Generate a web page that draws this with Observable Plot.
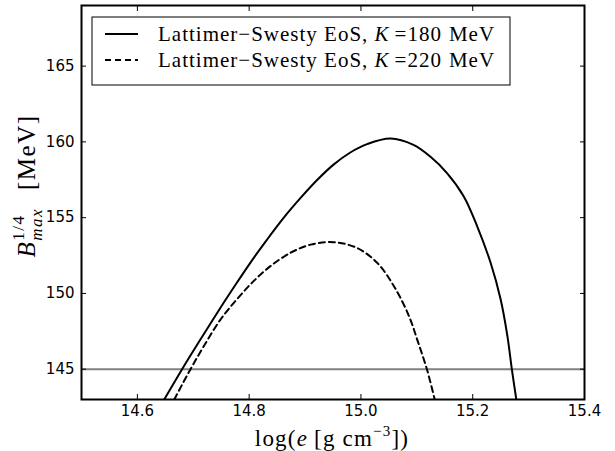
<!DOCTYPE html>
<html><head><meta charset="utf-8">
<script src="https://cdn.jsdelivr.net/npm/d3@7"></script>
<script src="https://cdn.jsdelivr.net/npm/@observablehq/plot@0.6"></script>
<style>body{margin:0;background:#fff} svg{display:block}</style>
</head><body><div id="chart"></div>
<script>
// K = 180 MeV (solid)
const xK180 = [14.648, 14.680, 14.713, 14.743, 14.772, 14.802, 14.832, 14.862, 14.892, 14.922, 14.951, 14.981, 15.011, 15.053, 15.094, 15.124, 15.154, 15.184, 15.208, 15.232, 15.250, 15.262, 15.270, 15.278];
const yK180 = [143.0, 145.0, 146.97, 148.73, 150.37, 152.02, 153.55, 155.0, 156.3, 157.5, 158.5, 159.3, 159.85, 160.22, 159.8, 159.03, 157.94, 156.40, 154.43, 152.02, 149.6, 147.2, 145.0, 143.0];
// K = 220 MeV (dashed)
const xK220 = [14.666, 14.695, 14.719, 14.749, 14.778, 14.808, 14.838, 14.874, 14.910, 14.951, 14.993, 15.029, 15.059, 15.086, 15.102, 15.118, 15.132];
const yK220 = [143.0, 145.0, 146.53, 148.29, 149.61, 150.81, 151.80, 152.68, 153.22, 153.38, 153.0, 152.02, 150.48, 148.5, 146.8, 145.0, 143.0];
const threshold = [145];
const xTicks = [14.6, 14.8, 15.0, 15.2, 15.4];
const yTicks = [145, 150, 155, 160, 165];
const seriesNames = ["Lattimer\u2212Swesty EoS, ", "Lattimer\u2212Swesty EoS, "];
const seriesK = ["180", "220"];
const seriesDash = [null, "6,4"];

const k180 = xK180.map((x, i) => ({x, y: yK180[i]}));
const k220 = xK220.map((x, i) => ({x, y: yK220[i]}));
const fmt = d3.format(".1f");

const plot = Plot.plot({
  width: 615, height: 451,
  marginLeft: 81, marginRight: 31, marginTop: 5, marginBottom: 52,
  style: {fontFamily: "DejaVu Sans", fontSize: "15px", background: "white", color: "black"},
  x: {domain: [14.5, 15.4]},
  y: {domain: [143, 169]},
  marks: [
    Plot.ruleY(threshold, {stroke: "#808080", strokeWidth: 2}),
    Plot.line(k180, {x: "x", y: "y", stroke: "black", strokeWidth: 2, curve: "catmull-rom", clip: true}),
    Plot.line(k220, {x: "x", y: "y", stroke: "black", strokeWidth: 2, strokeDasharray: seriesDash[1], curve: "catmull-rom", clip: true}),
    Plot.axisX(xTicks, {anchor: "bottom", tickSize: 0, tickPadding: 6, tickFormat: fmt, label: null}),
    Plot.axisX(xTicks, {anchor: "bottom", tickSize: -5, tickFormat: () => "", label: null}),
    Plot.axisX(xTicks, {anchor: "top", tickSize: -5, tickFormat: () => "", label: null}),
    Plot.axisY(yTicks, {anchor: "left", tickSize: 0, tickPadding: 7, label: null}),
    Plot.axisY(yTicks, {anchor: "left", tickSize: -5, tickFormat: () => "", label: null}),
    Plot.axisY(yTicks, {anchor: "right", tickSize: -5, tickFormat: () => "", label: null}),
    Plot.frame({stroke: "black", strokeWidth: 2})
  ]
});
document.getElementById("chart").appendChild(plot);

const svg = d3.select(plot);
const serif = "'Liberation Serif', 'DejaVu Serif', serif";

// legend
const lg = svg.append("g").attr("text-anchor", "start");
lg.append("rect").attr("x", 92).attr("y", 17).attr("width", 418).attr("height", 68)
  .attr("fill", "white").attr("stroke", "black").attr("stroke-width", 1);
seriesNames.forEach((name, i) => {
  const cy = 34 + i * 26;
  lg.append("line").attr("x1", 105).attr("x2", 138).attr("y1", cy).attr("y2", cy)
    .attr("stroke", "black").attr("stroke-width", 2).attr("stroke-dasharray", seriesDash[i]);
  const t = lg.append("text").attr("x", 158).attr("y", cy + 7).attr("text-anchor", "start")
    .attr("font-family", serif).attr("font-size", 21).attr("letter-spacing", 1).attr("fill", "black");
  t.append("tspan").text(name);
  t.append("tspan").attr("font-style", "italic").text("K");
  t.append("tspan").attr("dx", 5).text("=" + seriesK[i]);
  t.append("tspan").attr("dx", 7).text("MeV");
});

// x label
const xl = svg.append("text").attr("x", 332).attr("y", 446).attr("text-anchor", "middle")
  .attr("font-family", serif).attr("font-size", 23).attr("letter-spacing", 1.2).attr("fill", "black");
xl.append("tspan").text("log(");
xl.append("tspan").attr("font-style", "italic").text("e");
xl.append("tspan").attr("dx", 6).text("[g cm");
xl.append("tspan").attr("font-size", 15).attr("dy", -10).text("\u22123");
xl.append("tspan").attr("dy", 10).text("])");

// y label
const yl = svg.append("text").attr("transform", "translate(35,186) rotate(-90)").attr("text-anchor", "middle")
  .attr("font-family", serif).attr("font-size", 25).attr("letter-spacing", 1.5).attr("fill", "black");
yl.append("tspan").attr("font-style", "italic").text("B");
const sup = yl.append("tspan").attr("font-size", 17).attr("dy", -11).text("1/4");
const sub = yl.append("tspan").attr("font-size", 17).attr("font-style", "italic").attr("dy", 18).text("max");
yl.append("tspan").attr("dy", -7).attr("dx", 18).text("[MeV]");
const supW = sup.node().getComputedTextLength();
sub.attr("dx", -supW);
</script></body></html>
